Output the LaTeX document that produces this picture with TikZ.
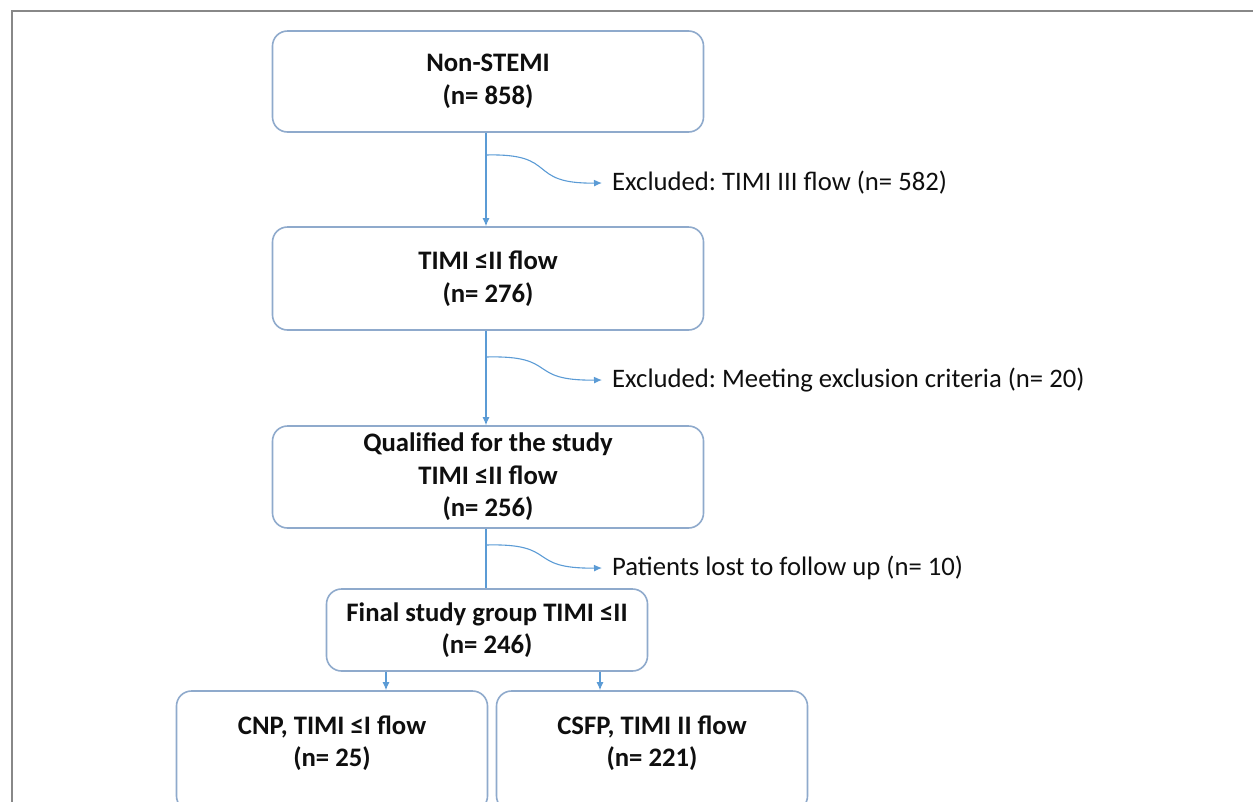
\documentclass[tikz,border=0pt]{standalone}
\usepackage{fontspec}
\setmainfont{Carlito}
\usetikzlibrary{arrows.meta}
\definecolor{boxc}{RGB}{143,170,204}
\definecolor{arrc}{RGB}{91,155,213}
\definecolor{framec}{RGB}{136,136,136}
\definecolor{txt}{RGB}{15,15,15}
\tikzset{
  box/.style={draw=boxc, line width=1.6pt, rounded corners=15pt, fill=white, inner sep=0pt},
  lbl/.style={align=center, text=txt, font=\fontsize{26.7}{32.5}\selectfont\bfseries},
  side/.style={anchor=west, inner sep=10pt, text=txt, font=\fontsize{26.7}{32}\selectfont},
  flow/.style={draw=arrc, line width=1.1pt, -{Latex[length=8pt,width=7pt]}},
  flowplain/.style={draw=arrc, line width=1.1pt},
}
\begin{document}
\frenchspacing
\begin{tikzpicture}[x=1pt,y=-1pt]
\useasboundingbox (0,0) rectangle (1253,801);
\clip (0,0) rectangle (1253,801);
\draw[framec, line width=2.2pt] (12,810) -- (12,11) -- (1260,11);

\node[box, lbl, minimum width=431pt, minimum height=101pt] (b1) at (488,81.5) {Non-STEMI\\(n= 858)};
\node[box, lbl, minimum width=431pt, minimum height=103pt] (b2) at (488,278.5) {TIMI ≤II flow\\(n= 276)};
\node[box, lbl, minimum width=431pt, minimum height=102pt] (b3) at (488,477) {Qualified for the study\\TIMI ≤II flow\\(n= 256)};
\node[box, lbl, minimum width=321pt, minimum height=82pt] (b4) at (487,630) {Final study group TIMI ≤II\\(n= 246)};
\node[box, minimum width=311pt, minimum height=120pt] (b5) at (332,751) {};
\node[box, minimum width=311pt, minimum height=120pt] (b6) at (652,751) {};
\node[lbl] (t5) at (332,743) {CNP, TIMI ≤I flow\\(n= 25)};
\node[lbl] (t6) at (652,743) {CSFP, TIMI II flow\\(n= 221)};

\node[side] (e1) at (602,183) {Excluded: TIMI III flow (n= 582)};
\node[side] (e2) at (602,380) {Excluded: Meeting exclusion criteria (n= 20)};
\node[side] (e3) at (602,568) {Patients lost to follow up (n= 10)};

\coordinate (c1) at (486,155);
\coordinate (c2) at (486,357);
\coordinate (c3) at (486,545);

\draw[flow] (b1.south -| c1) -- (b2.north -| c1);
\draw[flow] (b2.south -| c2) -- (b3.north -| c2);
\draw[flowplain] (b3.south -| c3) -- (b4.north -| c3);

\draw[flow] (c1) .. controls (560,153) and (525,184) .. (e1.west);
\draw[flow] (c2) .. controls (560,355) and (525,381) .. (e2.west);
\draw[flow] (c3) .. controls (560,543) and (525,569) .. (e3.west);

\draw[flow] (b4.south -| 386,0) -- (b5.north -| 386,0);
\draw[flow] (b4.south -| 600,0) -- (b6.north -| 600,0);
\end{tikzpicture}
\end{document}
